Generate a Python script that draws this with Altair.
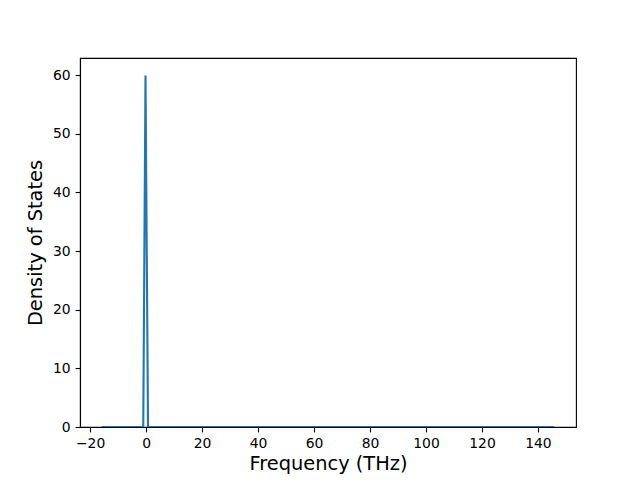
import altair as alt
import pandas as pd

freq = [-15.8, -1.0, -0.2, 0.7, 145.7]
dos = [0.0, 0.0, 59.9, 0.0, 0.0]

df = pd.DataFrame({"freq": freq, "dos": dos})

x_ticks = [-20, 0, 20, 40, 60, 80, 100, 120, 140]
y_ticks = [0, 10, 20, 30, 40, 50, 60]

axis_common = dict(
    labelFont="DejaVu Sans", labelFontSize=13.9, labelColor="black",
    titleFont="DejaVu Sans", titleFontSize=19.4, titleFontWeight="normal", titleColor="black",
    tickColor="black", tickSize=4.9, tickWidth=1.1, domainColor="black", domainWidth=1.1,
    grid=False, labelPadding=4.9,
)

chart = alt.Chart(df).mark_line(color="#1f77b4", strokeWidth=2.1, clip=True).encode(
    x=alt.X("freq:Q", title="Frequency (THz)",
            scale=alt.Scale(domain=[-23.6, 153.6], nice=False, zero=False),
            axis=alt.Axis(values=x_ticks, format="d", titlePadding=4, **axis_common)),
    y=alt.Y("dos:Q", title="Density of States",
            scale=alt.Scale(domain=[0, 62.9], nice=False),
            axis=alt.Axis(values=y_ticks, format="d", titlePadding=7, **axis_common)),
).properties(
    width=496, height=369,
    background="white",
    autosize=alt.AutoSizeParams(type="none"),
    padding={"left": 72, "top": 50, "right": 56, "bottom": 52},
).configure_view(stroke="black", strokeWidth=1.1)

chart.save("out.html", embed_options={"renderer": "svg", "actions": False})
